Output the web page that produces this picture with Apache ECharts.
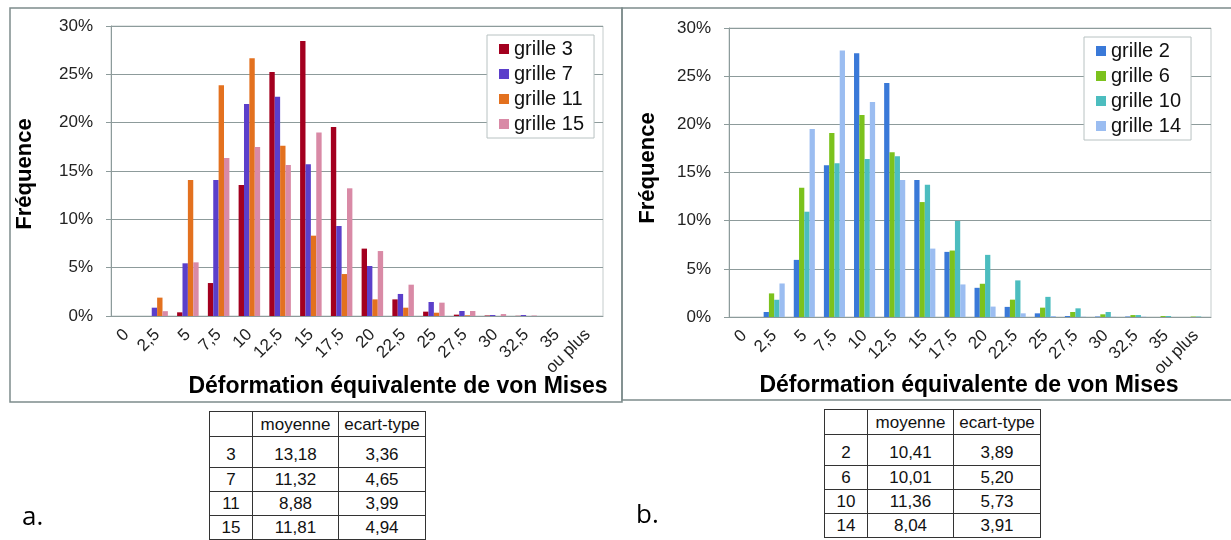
<!DOCTYPE html>
<html>
<head>
<meta charset="utf-8">
<script src="https://cdn.jsdelivr.net/npm/echarts@6/dist/echarts.min.js"></script>
<style>
  body { margin: 0; background: #fff; }
  #chart { position: absolute; left: 0; top: 0; width: 1231px; height: 540px; }
  table.stats { position: absolute; border-collapse: collapse; background: #fff; table-layout: fixed;
    font-family: "Liberation Sans", Arial, sans-serif; font-size: 17px; color: #111; }
  table.stats td { border: 1px solid #333; text-align: center; padding: 0; height: 23px; line-height: 18px; }
  table.stats tr.head td { height: 22px; padding-top: 2px; }
  table.stats tr.first td { height: 27px; vertical-align: bottom; padding-bottom: 3px; }
</style>
</head>
<body>
<div id="chart"></div>

<script>
// classes de deformation (abscisse)
var categories = ['0', '2,5', '5', '7,5', '10', '12,5', '15', '17,5', '20', '22,5', '25', '27,5', '30', '32,5', '35', 'ou plus'];

// frequences en %, graphe a.
var grille3  = [0, 0, 0.38, 3.41, 13.55, 25.24, 28.45, 19.55, 6.97, 1.72, 0.45, 0.14, 0.05, 0.02, 0, 0];
var grille7  = [0, 0.86, 5.45, 14.07, 21.93, 22.69, 15.69, 9.31, 5.17, 2.28, 1.45, 0.52, 0.10, 0.10, 0, 0];
var grille11 = [0, 1.90, 14.07, 23.86, 26.66, 17.62, 8.31, 4.34, 1.72, 0.86, 0.34, 0.07, 0, 0, 0, 0];
var grille15 = [0, 0.50, 5.55, 16.34, 17.48, 15.62, 18.97, 13.21, 6.72, 3.24, 1.38, 0.52, 0.20, 0.05, 0, 0];

// frequences en %, graphe b.
var grille2  = [0, 0.52, 5.93, 15.76, 27.38, 24.28, 14.21, 6.76, 3.03, 1.05, 0.38, 0.10, 0.05, 0.05, 0, 0];
var grille6  = [0, 2.45, 13.41, 19.10, 20.97, 17.10, 11.93, 6.90, 3.45, 1.80, 0.97, 0.52, 0.28, 0.20, 0.10, 0.05];
var grille10 = [0, 1.79, 10.93, 15.97, 16.41, 16.69, 13.72, 9.97, 6.45, 3.80, 2.09, 0.90, 0.52, 0.20, 0.10, 0.05];
var grille14 = [0, 3.48, 19.52, 27.66, 22.31, 14.21, 7.10, 3.38, 1.08, 0.38, 0.10, 0.03, 0.02, 0.03, 0, 0];

// tableaux moyenne / ecart-type
var tableHead = ['', 'moyenne', 'ecart-type'];
var tableA = [['3', '13,18', '3,36'], ['7', '11,32', '4,65'], ['11', '8,88', '3,99'], ['15', '11,81', '4,94']];
var tableB = [['2', '10,41', '3,89'], ['6', '10,01', '5,20'], ['10', '11,36', '5,73'], ['14', '8,04', '3,91']];

var axisGray = '#8d9b9b';
var font = 'Liberation Sans';

function barSeries(name, data, color, idx) {
  return {
    name: name,
    type: 'bar',
    xAxisIndex: idx,
    yAxisIndex: idx,
    data: data,
    barGap: '0%',
    barCategoryGap: '30%',
    itemStyle: { color: color },
    silent: true
  };
}

function makeX(idx) {
  return {
    type: 'category',
    gridIndex: idx,
    data: categories,
    axisLine: { lineStyle: { color: axisGray } },
    axisTick: { length: 5, lineStyle: { color: axisGray } },
    axisLabel: { rotate: 45, interval: 0, margin: 16, fontSize: 17, color: '#222', fontFamily: font }
  };
}

function makeY(idx) {
  return {
    type: 'value',
    gridIndex: idx,
    min: 0,
    max: 30,
    interval: 5,
    axisLine: { show: true, lineStyle: { color: axisGray } },
    axisTick: { show: true, length: 5, lineStyle: { color: axisGray } },
    axisLabel: { formatter: '{value}%', fontSize: 17, margin: 18, color: '#222', fontFamily: font },
    splitLine: { lineStyle: { color: axisGray } }
  };
}

function makeLegend(names, left, top) {
  return {
    data: names,
    orient: 'vertical',
    left: left,
    top: top,
    icon: 'rect',
    itemWidth: 10,
    itemHeight: 10,
    itemGap: 5,
    padding: [4, 10, 4, 12],
    borderColor: '#b8c2c2',
    borderWidth: 1,
    backgroundColor: '#fff',
    selectedMode: false,
    textStyle: { fontSize: 20, lineHeight: 20, color: '#111', fontFamily: font }
  };
}

var chart = echarts.init(document.getElementById('chart'));

var option = {
  animation: false,
  grid: [
    { left: 111, top: 26, width: 492, height: 290, show: true, borderColor: '#c5cccc', borderWidth: 1 },
    { left: 729, top: 28, width: 482, height: 289, show: true, borderColor: '#c5cccc', borderWidth: 1 }
  ],
  xAxis: [makeX(0), makeX(1)],
  yAxis: [makeY(0), makeY(1)],
  legend: [
    makeLegend(['grille 3', 'grille 7', 'grille 11', 'grille 15'], 487, 35),
    makeLegend(['grille 2', 'grille 6', 'grille 10', 'grille 14'], 1084, 37)
  ],
  series: [
    barSeries('grille 3', grille3, '#a3001f', 0),
    barSeries('grille 7', grille7, '#5b3fca', 0),
    barSeries('grille 11', grille11, '#e3711f', 0),
    barSeries('grille 15', grille15, '#d98aa6', 0),
    barSeries('grille 2', grille2, '#3a79d8', 1),
    barSeries('grille 6', grille6, '#7cc21d', 1),
    barSeries('grille 10', grille10, '#4cbdbf', 1),
    barSeries('grille 14', grille14, '#9bbdf1', 1)
  ],
  graphic: [
    { type: 'rect', shape: { x: 10, y: 8, width: 612, height: 394 }, style: { fill: 'none', stroke: '#7d8c8c', lineWidth: 1.5 } },
    { type: 'rect', shape: { x: 622, y: 8, width: 620, height: 392 }, style: { fill: 'none', stroke: '#7d8c8c', lineWidth: 1.5 } },
    { type: 'text', x: 25, y: 174, rotation: Math.PI / 2,
      style: { text: 'Fréquence', font: 'bold 22px "Liberation Sans"', fill: '#000', textAlign: 'center', textVerticalAlign: 'middle' } },
    { type: 'text', x: 648, y: 168, rotation: Math.PI / 2,
      style: { text: 'Fréquence', font: 'bold 22px "Liberation Sans"', fill: '#000', textAlign: 'center', textVerticalAlign: 'middle' } },
    { type: 'text', x: 398, y: 387,
      style: { text: 'Déformation équivalente de von Mises', font: 'bold 23px "Liberation Sans"', fill: '#000', textAlign: 'center', textVerticalAlign: 'middle' } },
    { type: 'text', x: 969, y: 386,
      style: { text: 'Déformation équivalente de von Mises', font: 'bold 23px "Liberation Sans"', fill: '#000', textAlign: 'center', textVerticalAlign: 'middle' } },
    { type: 'text', x: 22, y: 518,
      style: { text: 'a.', font: '26px "Open Sans"', fill: '#000', textVerticalAlign: 'middle' } },
    { type: 'text', x: 636, y: 516,
      style: { text: 'b.', font: '26px "Open Sans"', fill: '#000', textVerticalAlign: 'middle' } }
  ]
};

chart.setOption(option);

/**
 * tableau des statistiques
 */
function buildTable(rows, left, top) {
  var t = document.createElement('table');
  t.className = 'stats';
  t.style.left = left + 'px';
  t.style.top = top + 'px';
  t.style.width = '213px';
  var widths = [42, 85, 86];
  var all = [tableHead].concat(rows);
  for (var i = 0; i < all.length; i++) {
    var tr = document.createElement('tr');
    if (i == 0) tr.className = 'head';
    if (i == 1) tr.className = 'first';
    for (var j = 0; j < all[i].length; j++) {
      var td = document.createElement('td');
      td.style.width = widths[j] + 'px';
      td.textContent = all[i][j];
      tr.appendChild(td);
    }
    t.appendChild(tr);
  }
  document.body.appendChild(t);
}

buildTable(tableA, 209, 411);
buildTable(tableB, 824, 409);
</script>
</body>
</html>
